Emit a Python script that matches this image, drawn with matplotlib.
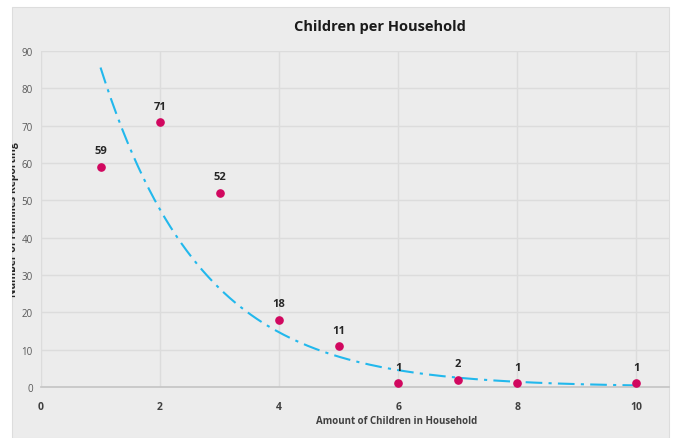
import numpy as np
import matplotlib
matplotlib.use('Agg')
import matplotlib.pyplot as plt
from matplotlib.patches import Rectangle
from matplotlib.transforms import Bbox

children = [1, 2, 3, 4, 5, 6, 7, 8, 10]
families = [59, 71, 52, 18, 11, 1, 2, 1, 1]
x_ticks = [0, 2, 4, 6, 8, 10]
y_ticks = [0, 10, 20, 30, 40, 50, 60, 70, 80, 90]

plt.rcParams['font.family'] = ['Open Sans', 'DejaVu Sans']

W, H = 673, 439
fig = plt.figure(figsize=(W / 100, H / 100), dpi=100)
fig.patch.set_facecolor('white')

# chart area
bg = Rectangle((12 / W, 0), (669 - 12) / W, (H - 8) / H, transform=fig.transFigure,
               facecolor='#ececec', edgecolor='#dddddd', lw=0.8, zorder=-5)
fig.patches.append(bg)

ax = fig.add_axes([41 / W, 1 - 388 / H, (669 - 41) / W, (388 - 52) / H])
ax.set_facecolor('none')
ax.set_xlim(0, 10.55)
ax.set_ylim(0, 90)
ax.set_xticks(x_ticks)
ax.set_yticks(y_ticks)
ax.grid(True, color='#dcdcdc', lw=1.0)
ax.set_axisbelow(True)
for s in ['top', 'right', 'left']:
    ax.spines[s].set_visible(False)
ax.spines['bottom'].set_color('#c4c4c4')
ax.spines['bottom'].set_linewidth(1.2)
ax.tick_params(length=0)
ax.tick_params(axis='y', labelsize=7, labelcolor='#595959', pad=6)
ax.tick_params(axis='x', labelsize=7.5, labelcolor='#404040', pad=10)
for t in ax.get_xticklabels():
    t.set_fontweight('bold')

# exponential trendline fitted like Excel (least squares on log y)
b, ln_a = np.polyfit(children, np.log(families), 1)
xs = np.linspace(1, 10, 200)
ax.plot(xs, np.exp(ln_a + b * xs), color='#22b8ec', lw=1.5, ls=(0, (8, 3, 1.5, 3)), zorder=2)

ax.plot(children, families, 'o', color='#d1075f', ms=5.2, zorder=3, clip_on=False)
for xv, yv in zip(children, families):
    ax.annotate(str(yv), (xv, yv), xytext=(0, 7.5), textcoords='offset points',
                ha='center', va='bottom', fontsize=8, fontweight='bold', color='#262626')

fig.text(380 / W, 1 - 27 / H, 'Children per Household', ha='center', va='center',
         fontsize=10.5, fontweight='bold', color='#1a1a1a')
fig.text(397 / W, 1 - 422 / H, 'Amount of Children in Household', ha='center', va='center',
         fontsize=7, fontweight='bold', color='#404040')
ylab = fig.text(14 / W, 1 - 220 / H, 'Number of Families Reporting', ha='center', va='center',
                rotation=90, fontsize=7.5, fontweight='bold', color='#262626')
ylab.set_clip_box(Bbox.from_extents(12, 0, 669, H - 8))
ylab.set_clip_on(True)

fig.savefig('out.png', dpi=100, facecolor='white')
